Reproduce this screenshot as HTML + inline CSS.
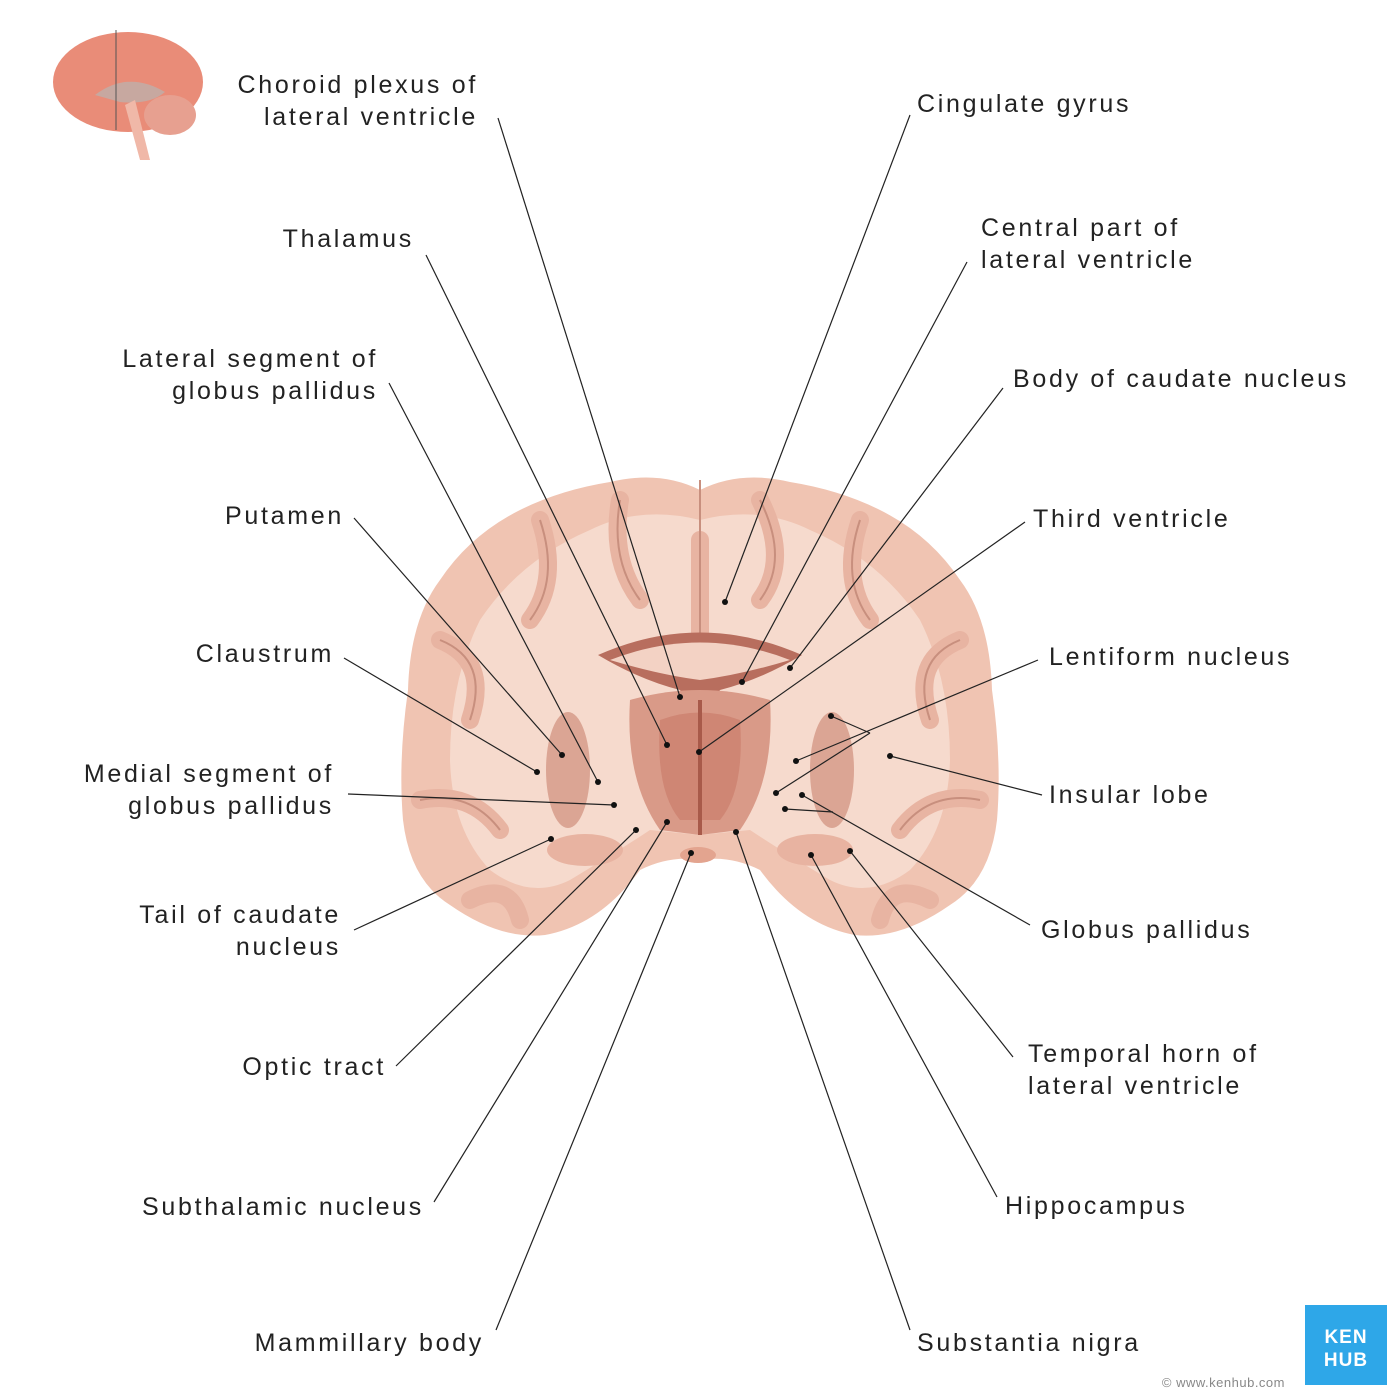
<!DOCTYPE html>
<html><head><meta charset="utf-8"><style>
body{margin:0;width:1400px;height:1400px;background:#fff;overflow:hidden;font-family:"Liberation Sans",sans-serif;}
svg{position:absolute;left:0;top:0}
text{font-family:"Liberation Sans",sans-serif;font-size:25px;fill:#222;letter-spacing:2.7px}
</style></head><body>
<svg width="1400" height="1400" viewBox="0 0 1400 1400">
<g>
<ellipse cx="128" cy="82" rx="75" ry="50" fill="#e98c78"/>
<path d="M95 95 Q128 70 165 92 Q150 105 120 102 Z" fill="#c7a8a0"/>
<ellipse cx="170" cy="115" rx="26" ry="20" fill="#e7a090"/>
<path d="M135 100 L150 160 L140 160 L125 105 Z" fill="#f0b8a8"/>
<line x1="116" y1="30" x2="116" y2="130" stroke="#555" stroke-width="1"/>
</g>
<path d="M700 490 Q660 470 610 482 Q560 490 520 510 Q470 535 440 580 Q410 620 408 690 Q398 760 403 820 Q410 880 450 905 Q500 940 545 935 Q600 925 640 870 Q670 855 700 860 Q730 855 760 870 Q800 925 855 935 Q900 940 950 905 Q990 880 997 820 Q1002 760 992 690 Q990 620 960 580 Q930 535 880 510 Q840 490 790 482 Q740 470 700 490 Z" fill="#f0c4b2"/>
<path d="M700 520 Q640 505 590 530 Q520 560 480 620 Q450 680 450 760 Q452 830 490 870 Q530 900 570 880 Q620 850 650 830 L700 835 L750 830 Q780 850 830 880 Q870 900 910 870 Q948 830 950 760 Q950 680 920 620 Q880 560 810 530 Q760 505 700 520 Z" fill="#f6dacd"/>
<g fill="none" stroke="#e8b4a2" stroke-width="18" stroke-linecap="round">
<path d="M620 500 Q610 560 640 600"/><path d="M760 500 Q790 560 760 600"/>
<path d="M540 520 Q560 580 530 620"/><path d="M860 520 Q840 580 870 620"/>
<path d="M440 640 Q490 660 470 720"/><path d="M960 640 Q910 660 930 720"/>
<path d="M420 800 Q470 790 500 830"/><path d="M980 800 Q930 790 900 830"/>
<path d="M470 900 Q510 880 520 920"/><path d="M930 900 Q890 880 880 920"/>
<path d="M700 540 L700 640"/>
</g>
<g fill="none" stroke="#c88f7e" stroke-width="2">
<path d="M620 500 Q610 560 640 600"/><path d="M760 500 Q790 560 760 600"/>
<path d="M540 520 Q560 580 530 620"/><path d="M860 520 Q840 580 870 620"/>
<path d="M440 640 Q490 660 470 720"/><path d="M960 640 Q910 660 930 720"/>
<path d="M420 800 Q470 790 500 830"/><path d="M980 800 Q930 790 900 830"/>
<path d="M700 480 L700 650"/>
</g>
<path d="M598 655 Q700 610 802 655 Q760 680 720 690 L700 720 L680 690 Q640 680 598 655 Z" fill="#b86e5e"/>
<path d="M610 660 Q700 625 790 660 Q740 675 700 680 Q660 675 610 660Z" fill="#f3d2c4"/>
<path d="M630 700 Q700 680 770 700 Q775 780 740 830 L700 835 L660 830 Q625 780 630 700 Z" fill="#d99a88"/>
<path d="M660 720 Q700 705 740 720 Q745 790 720 820 L680 820 Q655 790 660 720 Z" fill="#cf8674"/>
<path d="M700 700 L700 835" stroke="#a85a4a" stroke-width="4"/>
<ellipse cx="568" cy="770" rx="22" ry="58" fill="#dba594"/>
<ellipse cx="832" cy="770" rx="22" ry="58" fill="#dba594"/>
<ellipse cx="585" cy="850" rx="38" ry="16" fill="#e8b3a1"/>
<ellipse cx="815" cy="850" rx="38" ry="16" fill="#e8b3a1"/>
<ellipse cx="698" cy="855" rx="18" ry="8" fill="#e3a48f"/>
<g stroke="#222" stroke-width="1.2" fill="none">
<line x1="498" y1="118" x2="680" y2="697"/>
<line x1="426" y1="255" x2="667" y2="745"/>
<line x1="389" y1="383" x2="598" y2="782"/>
<line x1="354" y1="518" x2="562" y2="755"/>
<line x1="344" y1="658" x2="537" y2="772"/>
<line x1="348" y1="794" x2="614" y2="805"/>
<line x1="354" y1="930" x2="551" y2="839"/>
<line x1="396" y1="1066" x2="636" y2="830"/>
<line x1="434" y1="1202" x2="667" y2="822"/>
<line x1="496" y1="1330" x2="691" y2="853"/>
<line x1="910" y1="115" x2="725" y2="602"/>
<line x1="967" y1="262" x2="742" y2="682"/>
<line x1="1003" y1="388" x2="790" y2="668"/>
<line x1="1025" y1="522" x2="699" y2="752"/>
<line x1="1038" y1="660" x2="796" y2="761"/>
<line x1="870" y1="733" x2="776" y2="793"/>
<line x1="831" y1="716" x2="870" y2="733"/>
<line x1="1042" y1="795" x2="890" y2="756"/>
<line x1="1030" y1="925" x2="802" y2="795"/>
<line x1="785" y1="809" x2="833" y2="812"/>
<line x1="1013" y1="1057" x2="850" y2="851"/>
<line x1="997" y1="1197" x2="811" y2="855"/>
<line x1="910" y1="1330" x2="736" y2="832"/>
</g>
<g fill="#111">
<circle cx="680" cy="697" r="3"/><circle cx="667" cy="745" r="3"/><circle cx="598" cy="782" r="3"/><circle cx="562" cy="755" r="3"/><circle cx="537" cy="772" r="3"/><circle cx="614" cy="805" r="3"/><circle cx="551" cy="839" r="3"/><circle cx="636" cy="830" r="3"/><circle cx="667" cy="822" r="3"/><circle cx="691" cy="853" r="3"/><circle cx="725" cy="602" r="3"/><circle cx="742" cy="682" r="3"/><circle cx="790" cy="668" r="3"/><circle cx="699" cy="752" r="3"/><circle cx="796" cy="761" r="3"/><circle cx="776" cy="793" r="3"/><circle cx="831" cy="716" r="3"/><circle cx="890" cy="756" r="3"/><circle cx="802" cy="795" r="3"/><circle cx="785" cy="809" r="3"/><circle cx="850" cy="851" r="3"/><circle cx="811" cy="855" r="3"/><circle cx="736" cy="832" r="3"/>
</g>
<g text-anchor="end">
<text x="478" y="93">Choroid plexus of</text><text x="478" y="125">lateral ventricle</text>
<text x="414" y="247">Thalamus</text>
<text x="378" y="367">Lateral segment of</text><text x="378" y="399">globus pallidus</text>
<text x="344" y="524">Putamen</text>
<text x="334" y="662">Claustrum</text>
<text x="334" y="782">Medial segment of</text><text x="334" y="814">globus pallidus</text>
<text x="341" y="923">Tail of caudate</text><text x="341" y="955">nucleus</text>
<text x="386" y="1075">Optic tract</text>
<text x="424" y="1215">Subthalamic nucleus</text>
<text x="484" y="1351">Mammillary body</text>
</g>
<g>
<text x="917" y="112">Cingulate gyrus</text>
<text x="981" y="236">Central part of</text><text x="981" y="268">lateral ventricle</text>
<text x="1013" y="387">Body of caudate nucleus</text>
<text x="1033" y="527">Third ventricle</text>
<text x="1049" y="665">Lentiform nucleus</text>
<text x="1049" y="803">Insular lobe</text>
<text x="1041" y="938">Globus pallidus</text>
<text x="1028" y="1062">Temporal horn of</text><text x="1028" y="1094">lateral ventricle</text>
<text x="1005" y="1214">Hippocampus</text>
<text x="917" y="1351">Substantia nigra</text>
</g>
<rect x="1305" y="1305" width="82" height="80" fill="#2ea7e8"/>
<text x="1346" y="1343" text-anchor="middle" style="fill:#fff;font-size:19px;font-weight:bold;letter-spacing:1px">KEN</text>
<text x="1346" y="1366" text-anchor="middle" style="fill:#fff;font-size:19px;font-weight:bold;letter-spacing:1px">HUB</text>
<text x="1285" y="1387" text-anchor="end" style="font-size:13px;fill:#888;letter-spacing:0.5px">© www.kenhub.com</text>
</svg>
</body></html>
